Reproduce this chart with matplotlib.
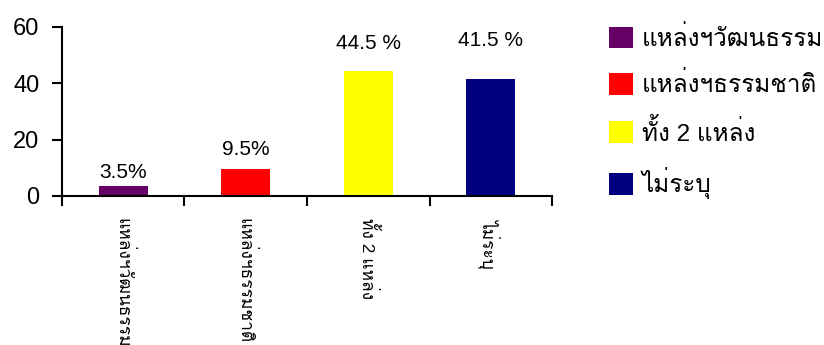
import matplotlib
matplotlib.use('Agg')
import numpy as np
import matplotlib.pyplot as plt
from matplotlib.patches import Patch

# data
categories = ['แหล่งฯวัฒนธรรม', 'แหล่งฯธรรมชาติ', 'ทั้ง 2 แหล่ง', 'ไม่ระบุ']
values = [3.5, 9.5, 44.5, 41.5]
value_labels = ['3.5%', '9.5%', '44.5 %', '41.5 %']
legend_labels = ['แหล่งฯวัฒนธรรม', 'แหล่งฯธรรมชาติ', 'ทั้ง 2 แหล่ง', 'ไม่ระบุ']
yticks = [0, 20, 40, 60]

# styling
colors = ['#660066', '#FF0000', '#FFFF00', '#000080']
label_offsets = [3, 7, 13, 21]  # points above the bar top
thai = ['Liberation Sans', 'Loma', 'DejaVu Sans']
plt.rcParams['font.family'] = thai

fig = plt.figure(figsize=(8.24, 3.45), dpi=100)
ax = fig.add_axes([0.075, 0.432, 0.595, 0.490])

x = np.arange(len(categories))
bars = ax.bar(x, values, width=0.4, color=colors)

for b, lab, off in zip(bars, value_labels, label_offsets):
    ax.annotate(lab, (b.get_x() + b.get_width() / 2, b.get_height()),
                xytext=(0, off), textcoords='offset points',
                ha='center', va='bottom', fontsize=15)

ax.set_xlim(-0.5, len(categories) - 0.5)
ax.set_ylim(0, 60)
ax.set_yticks(yticks)
ax.tick_params(axis='y', labelsize=17, length=7, width=1.5, pad=9)

ax.set_xticks(x)
ax.set_xticklabels(categories, rotation=270, fontsize=12.5)
ax.set_xticks(np.arange(len(categories) + 1) - 0.5, minor=True)
ax.tick_params(axis='x', which='major', length=0, pad=16)
ax.tick_params(axis='x', which='minor', length=7, width=1.5)

for s in ['top', 'right']:
    ax.spines[s].set_visible(False)
for s in ['left', 'bottom']:
    ax.spines[s].set_linewidth(1.5)

handles = [Patch(facecolor=c) for c in colors]
fig.legend(handles, legend_labels, loc='upper left',
           bbox_to_anchor=(0.739, 0.925), frameon=False,
           prop={'family': thai, 'size': 17.5},
           handlelength=1.0, handleheight=1.0, handletextpad=0.35,
           labelspacing=0.88, borderaxespad=0, borderpad=0)

fig.savefig('out.png', dpi=100)
